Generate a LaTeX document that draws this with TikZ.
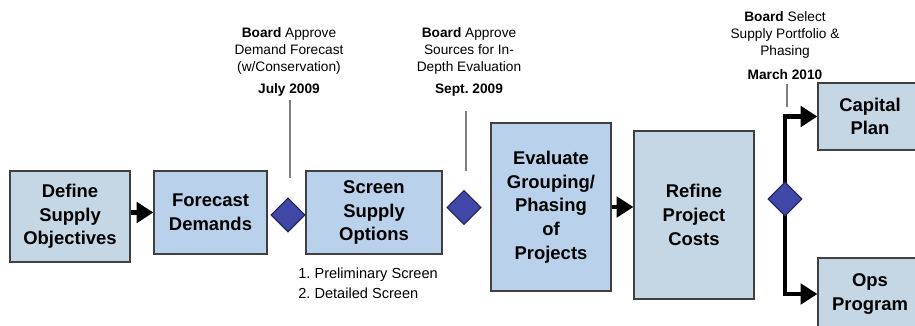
\documentclass[tikz,border=0pt]{standalone}
\usepackage{fontspec}
\setmainfont{Liberation Sans}
\usepackage{tikz}
\usetikzlibrary{arrows.meta,shapes.geometric}
\usepackage{xcolor}
\frenchspacing
\definecolor{boxblue}{HTML}{B9D1EA}
\definecolor{boxgrey}{HTML}{C5D7E5}
\definecolor{gatefill}{HTML}{4147A6}
\definecolor{gateedge}{HTML}{20245E}
\definecolor{edgegrey}{HTML}{404040}
\definecolor{calloutgrey}{HTML}{7F7F7F}

\tikzset{
  stage/.style={draw=edgegrey,line width=0.7pt,align=center,inner sep=1pt,
    font=\bfseries\fontsize{10.5}{13.5}\selectfont},
  gate/.style={diamond,aspect=1,draw=gateedge,line width=0.6pt,fill=gatefill,
    minimum size=0.68cm,inner sep=0pt},
  bigarrow/.style={line width=2.8pt,-{Triangle[length=9.5pt,width=11.5pt]}},
  fork/.style={line width=2.8pt,line join=miter,-{Triangle[length=9.5pt,width=11.5pt]}},
  note/.style={align=center,inner sep=2pt,font=\fontsize{7.8}{9.6}\selectfont},
  date/.style={inner sep=2pt,font=\bfseries\fontsize{7.8}{9.6}\selectfont},
  callout/.style={draw=calloutgrey,line width=0.6pt}
}

\begin{document}
\begin{tikzpicture}[x=0.02cm,y=-0.02cm]
  \clip (0,0) rectangle (915,325);
  \useasboundingbox (0,0) rectangle (915,325);
  % process boxes
  \node[stage,fill=boxgrey,minimum width=2.4cm,minimum height=1.82cm] (define) at (70,216.5)
      {Define\\Supply\\Objectives};
  \node[stage,fill=boxblue,minimum width=2.26cm,minimum height=1.66cm] (forecast) at (210.5,212.5)
      {Forecast\\Demands};
  \node[stage,fill=boxblue,minimum width=2.72cm,minimum height=1.66cm] (screen) at (374,212.5)
      {Screen\\Supply\\Options};
  \node[stage,fill=boxblue,minimum width=2.4cm,minimum height=3.36cm] (evaluate) at (551,207)
      {Evaluate\\Grouping/\\Phasing\\of\\Projects};
  \node[stage,fill=boxgrey,minimum width=2.4cm,minimum height=3.36cm] (refine) at (694,215)
      {Refine\\Project\\Costs};
  \node[stage,fill=boxgrey,minimum width=2.08cm,minimum height=1.34cm] (capital) at (870,116.5)
      {Capital\\Plan};
  \node[stage,fill=boxgrey,minimum width=2.08cm,minimum height=1.44cm] (ops) at (870,294)
      {Ops\\Program};
  \node[anchor=north west,align=left,inner sep=0pt,
        font=\fontsize{8.3}{11.3}\selectfont] (steps) at (298,268)
      {1. Preliminary Screen\\2. Detailed Screen};
  % arrows
  \draw[bigarrow] (define.east |- forecast) -- (forecast.west);
  \draw[bigarrow] (evaluate.east) -- (evaluate.east -| refine.west);
  \coordinate (split) at (785,199);
  \draw[fork] (split) |- (capital.west);
  \draw[fork] (split) |- (ops.west);
  % board decision gates
  \node[gate] (gate1) at (288,215) {};
  \node[gate] (gate2) at (464,207.5) {};
  \node[gate] (gate3) at (split) {};
  % board notes
  \node[note] (note1) at (289,51) {\textbf{Board} Approve\\Demand Forecast\\(w/Conservation)};
  \node[date] (date1) at (289,90) {July 2009};
  \node[note] (note2) at (469,51) {\textbf{Board} Approve\\Sources for In-\\Depth Evaluation};
  \node[date] (date2) at (469,90) {Sept. 2009};
  \node[note] (note3) at (785,35) {\textbf{Board} Select\\Supply Portfolio \&\\Phasing};
  \node[date] (date3) at (785,75) {March 2010};
  \coordinate (tip1) at (290,178);
  \coordinate (tip2) at (466,171);
  \coordinate (tip3) at (787,107);
  \draw[callout] (date1.south -| tip1) -- (tip1);
  \draw[callout,shorten <=6pt] (date2.south -| tip2) -- (tip2);
  \draw[callout] (date3.south -| tip3) -- (tip3);
\end{tikzpicture}
\end{document}
